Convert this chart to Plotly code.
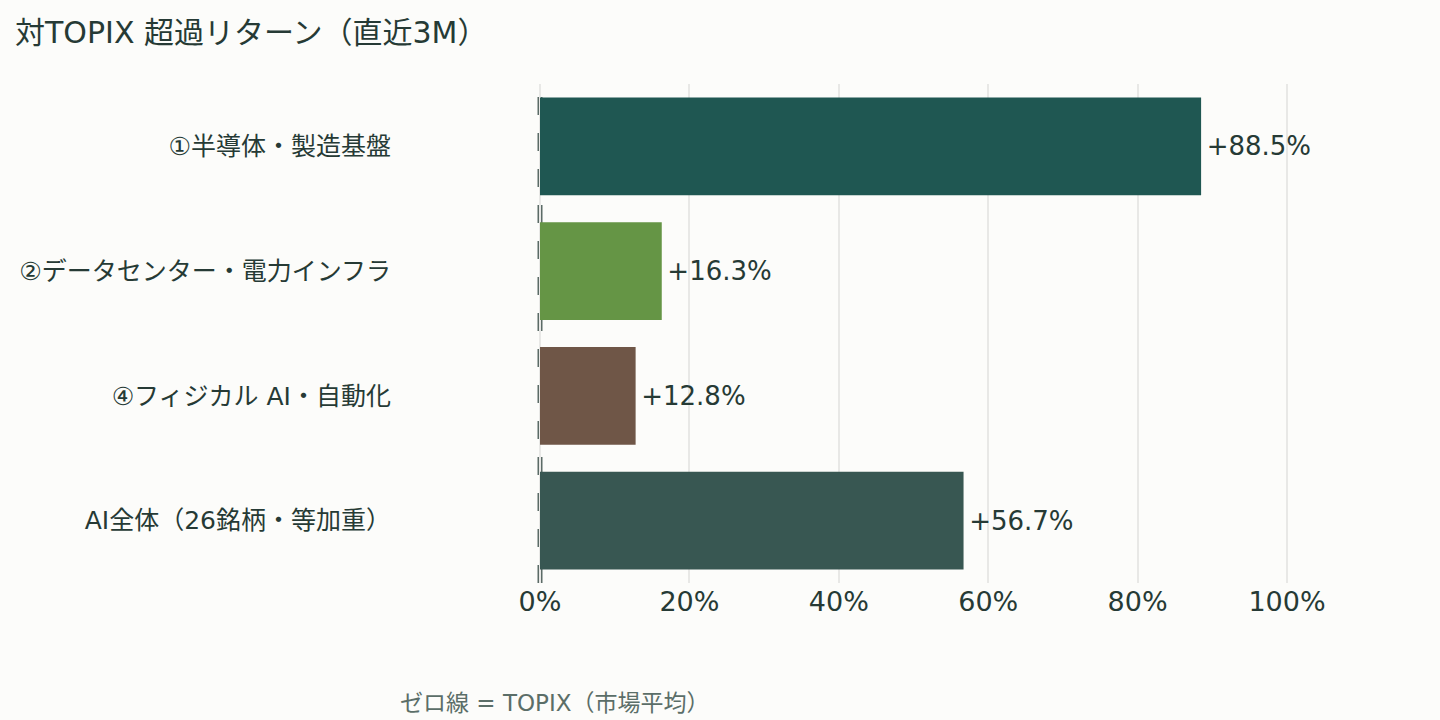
import plotly.graph_objects as go

categories = ["①半導体・製造基盤", "②データセンター・電力インフラ", "④フィジカル AI・自動化", "AI全体（26銘柄・等加重）"]
values = [88.5, 16.3, 12.8, 56.7]
colors = ["#1f5752", "#659545", "#6f5647", "#385752"]
tick_vals = [0, 20, 40, 60, 80, 100]
tick_text = ["0%", "20%", "40%", "60%", "80%", "100%"]
labels = [f"\u200a+{v:.1f}%" for v in values]

FONT = "DejaVu Sans, Noto Sans CJK JP, sans-serif"
TEXT = "#263a35"
BG = "#fcfcfa"

L, R = 530, 78
PLOT_W = 1440 - L - R
PX_PER_UNIT = 7.47
x_min = -(540 - L) / PX_PER_UNIT
x_max = x_min + PLOT_W / PX_PER_UNIT

fig = go.Figure()
fig.add_trace(go.Bar(
    x=values, y=categories, orientation="h",
    marker=dict(color=colors, line=dict(width=0)),
    text=labels, textposition="outside", cliponaxis=False,
    textfont=dict(size=26, color=TEXT, family=FONT),
    hoverinfo="skip",
))

fig.add_shape(type="line", xref="x", yref="paper", x0=0, x1=0, y0=0, y1=1,
              line=dict(color="#5b6b66", width=5, dash="18px,18px"), layer="between")

fig.update_layout(
    width=1440, height=720,
    paper_bgcolor=BG, plot_bgcolor=BG,
    font=dict(family=FONT, color=TEXT),
    margin=dict(l=L, r=R, t=84, b=137, autoexpand=False),
    bargap=0.216,
    showlegend=False,
    title=dict(text="対TOPIX 超過リターン（直近3M）", x=15/1440, xref="container", xanchor="left",
               y=1-32/720, yref="container", yanchor="middle",
               font=dict(size=30, color=TEXT, family=FONT)),
    xaxis=dict(range=[x_min, x_max], tickvals=tick_vals, ticktext=tick_text,
               showgrid=True, gridcolor="#e8e8e6", gridwidth=2, zeroline=False,
               showline=False, ticks="", tickfont=dict(size=27, color=TEXT, family=FONT),
               fixedrange=True),
    yaxis=dict(categoryorder="array", categoryarray=categories[::-1], autorange=True,
               showgrid=False, zeroline=False, showline=False, ticks="",
               ticklabelstandoff=138,
               tickfont=dict(size=25, color=TEXT, family=FONT), fixedrange=True),
    annotations=[dict(text="ゼロ線 = TOPIX（市場平均）", xref="paper", yref="paper",
                      x=(398-L)/PLOT_W, y=(583-703)/499, xanchor="left", yanchor="middle",
                      showarrow=False, font=dict(size=23, color="#5b6e68", family=FONT))],
)

fig.write_html("out.html")
